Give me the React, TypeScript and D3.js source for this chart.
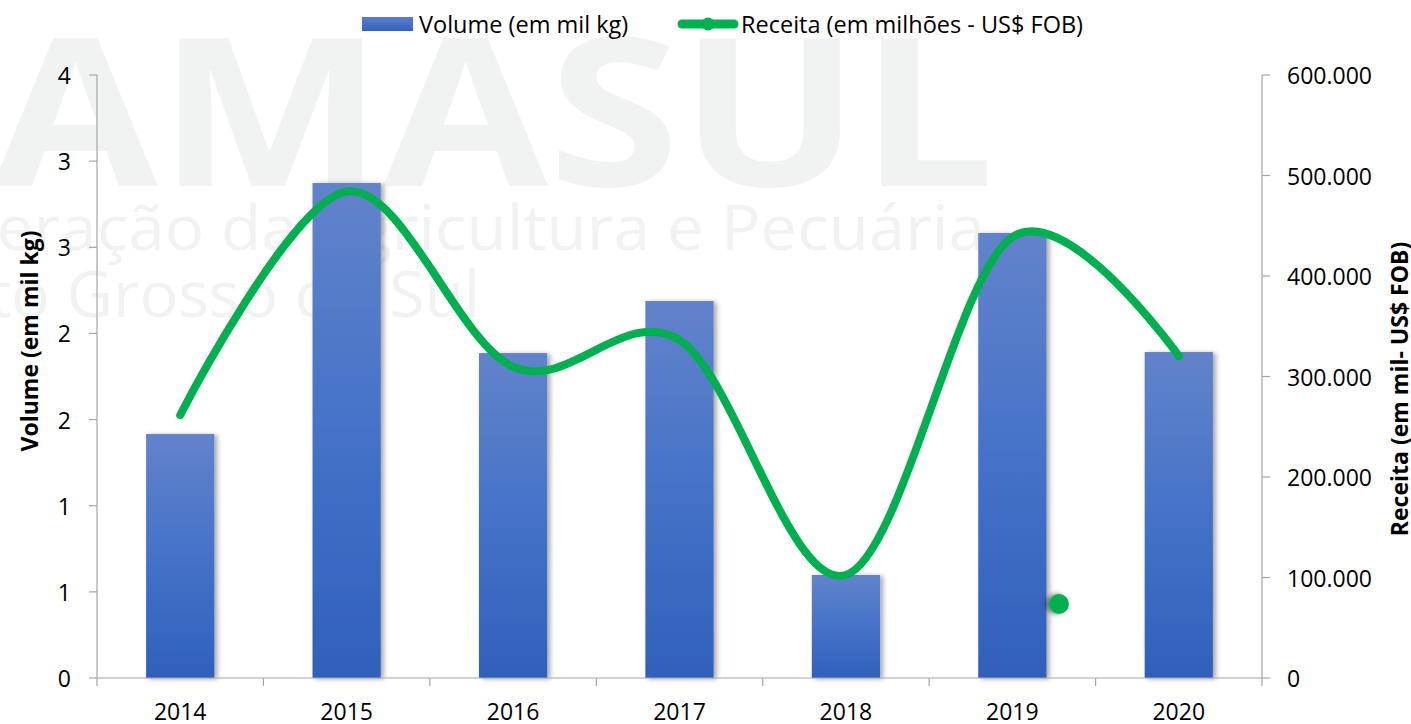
import React from "react";
import * as d3 from "d3";

const years = ["2014", "2015", "2016", "2017", "2018", "2019", "2020"];
const volume = [1.416, 2.873, 1.886, 2.188, 0.598, 2.583, 1.892];
const receita = [261700, 484000, 309500, 336300, 102500, 438800, 320400];
const strayMarker = { year: "2019", offset: 0.28, value: 73600 };
const leftTicks = [0, 0.5, 1, 1.5, 2, 2.5, 3, 3.5];
const rightTicks = [0, 100000, 200000, 300000, 400000, 500000, 600000];
const legendLabels = ["Volume (em mil kg)", "Receita (em milhões - US$ FOB)"];
const leftTitle = "Volume (em mil kg)";
const rightTitle = "Receita (em mil- US$ FOB)";
const watermark = ["FAMASUL", "Federação da Agricultura e Pecuária", "de Mato Grosso do Sul"];

const W = 1411, H = 724;
const X0 = 97, X1 = 1262, Y0 = 678, Y1 = 75;
const FONT = "'Open Sans', sans-serif";
const AXIS = "#A6A6A6";
const GREEN = "#00B050";

const ptBR = d3.formatLocale({ decimal: ",", thousands: ".", grouping: [3], currency: ["", ""] });
const fmtRight = ptBR.format(",.0f");
const fmtLeft = (v: number) => String(Math.round(v));

export default function App() {
  const x = d3.scaleBand<string>().domain(years).range([X0, X1]).padding(0);
  const step = x.step();
  const cx = (y: string) => (x(y) as number) + step / 2;
  const yL = d3.scaleLinear().domain([0, 3.5]).range([Y0, Y1]);
  const yR = d3.scaleLinear().domain([0, 600000]).range([Y0, Y1]);
  const barW = step * 0.41;

  const line = d3
    .line<number>()
    .x((_, i) => cx(years[i]))
    .y((d) => yR(d))
    .curve(d3.curveCardinal.tension(0));
  const path = line(receita) || "";

  const strayX = cx(strayMarker.year) + strayMarker.offset * step;

  return (
    <svg width={W} height={H} style={{ position: "absolute", left: 0, top: 0, display: "block" }} fontFamily={FONT}>
      <defs>
        <linearGradient id="barGrad" x1="0" y1="0" x2="0" y2="1">
          <stop offset="0" stopColor="#6283CB" />
          <stop offset="0.5" stopColor="#4572C8" />
          <stop offset="1" stopColor="#2F60BB" />
        </linearGradient>
        <linearGradient id="legGrad" x1="0" y1="0" x2="0" y2="1">
          <stop offset="0" stopColor="#5A7DCB" />
          <stop offset="1" stopColor="#3463BE" />
        </linearGradient>
        <filter id="shadow" x="-20%" y="-5%" width="150%" height="110%">
          <feDropShadow dx="3" dy="1" stdDeviation="2.5" floodColor="#000" floodOpacity="0.35" />
        </filter>
        <filter id="dotShadow" x="-100%" y="-100%" width="300%" height="300%">
          <feDropShadow dx="-3" dy="0" stdDeviation="2.5" floodColor="#000" floodOpacity="0.5" />
        </filter>
      </defs>
      <rect width={W} height={H} fill="#fff" />

      {/* watermark */}
      <g fill="#F1F3F2">
        <text x={-138} y={186} fontSize={206} fontWeight={700} textLength={1133} lengthAdjust="spacingAndGlyphs">{watermark[0]}</text>
        <text x={-114} y={250} fontSize={62} textLength={1099} lengthAdjust="spacingAndGlyphs">{watermark[1]}</text>
        <text x={-197} y={317} fontSize={64} textLength={677} lengthAdjust="spacingAndGlyphs">{watermark[2]}</text>
      </g>

      {/* bars */}
      <g filter="url(#shadow)">
        {years.map((yr, i) => (
          <rect key={yr} x={cx(yr) - barW / 2} y={yL(volume[i])} width={barW} height={Y0 - yL(volume[i])} fill="url(#barGrad)" />
        ))}
      </g>

      {/* axes */}
      <g stroke={AXIS} strokeWidth={1.2} fill="none">
        <line x1={X0} x2={X0} y1={Y1} y2={Y0} />
        <line x1={X1} x2={X1} y1={Y1} y2={Y0} />
        <line x1={X0} x2={X1} y1={Y0} y2={Y0} />
        {leftTicks.map((t) => (
          <line key={"l" + t} x1={X0 - 8} x2={X0} y1={yL(t)} y2={yL(t)} />
        ))}
        {rightTicks.map((t) => (
          <line key={"r" + t} x1={X1} x2={X1 + 8} y1={yR(t)} y2={yR(t)} />
        ))}
        {d3.range(years.length + 1).map((i) => (
          <line key={"b" + i} x1={X0 + i * step} x2={X0 + i * step} y1={Y0} y2={Y0 + 8} />
        ))}
      </g>
      <g fontSize={23} fill="#000">
        {leftTicks.map((t) => (
          <text key={"lt" + t} x={71} y={yL(t)} textAnchor="end" dominantBaseline="central">{fmtLeft(t)}</text>
        ))}
        {rightTicks.map((t) => (
          <text key={"rt" + t} x={1287} y={yR(t)} textAnchor="start" dominantBaseline="central">{fmtRight(t)}</text>
        ))}
        {years.map((yr) => (
          <text key={"xt" + yr} x={cx(yr)} y={720} textAnchor="middle">{yr}</text>
        ))}
      </g>

      {/* axis titles */}
      <text transform="translate(38,341) rotate(-90)" textAnchor="middle" fontSize={23} fontWeight={700}>{leftTitle}</text>
      <text transform="translate(1408,389) rotate(-90)" textAnchor="middle" fontSize={23} fontWeight={700}>{rightTitle}</text>

      {/* line */}
      <path d={path} fill="none" stroke={GREEN} strokeWidth={8} strokeLinecap="round" strokeLinejoin="round" />
      <circle cx={strayX} cy={yR(strayMarker.value)} r={10} fill={GREEN} filter="url(#dotShadow)" />

      {/* legend */}
      <rect x={362} y={17} width={51} height={14} fill="url(#legGrad)" />
      <text x={419} y={24} dominantBaseline="central" fontSize={23.5}>{legendLabels[0]}</text>
      <line x1={682} x2={734} y1={24} y2={24} stroke={GREEN} strokeWidth={9} strokeLinecap="round" />
      <circle cx={708} cy={24} r={6.5} fill={GREEN} />
      <text x={741} y={24} dominantBaseline="central" fontSize={23.5}>{legendLabels[1]}</text>
    </svg>
  );
}
